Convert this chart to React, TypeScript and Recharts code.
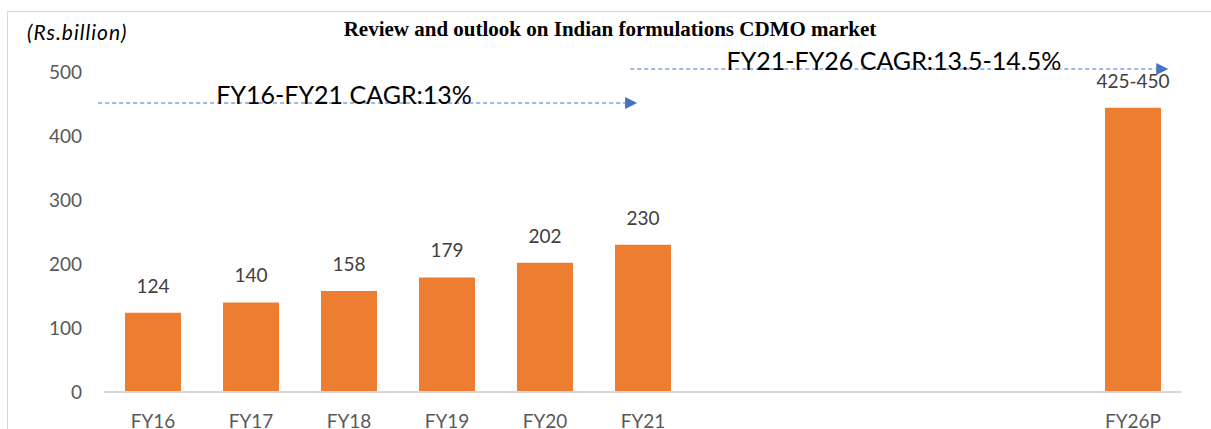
import React from "react";
import {
  BarChart,
  Bar,
  XAxis,
  YAxis,
  LabelList,
  ReferenceLine,
} from "recharts";

const categories = ["FY16", "FY17", "FY18", "FY19", "FY20", "FY21", "", "", "", "", "FY26P"];
const values = [124, 140, 158, 179, 202, 230, null, null, null, null, 444];
const valueLabels = ["124", "140", "158", "179", "202", "230", "", "", "", "", "425-450"];
const yTicks = [0, 100, 200, 300, 400, 500];

// CAGR arrows: start / tip in category index units, height in Rs.billion
const cagrLabels = ["FY16-FY21 CAGR:13%", "FY21-FY26 CAGR:13.5-14.5%"];
const cagrFrom = [-0.56, 4.87];
const cagrTo = [4.94, 10.36];
const cagrLevel = [451.6, 504.7];
const cagrTextAt = [1.95, 7.56];

const data = categories.map((name, i) => ({
  idx: i,
  name,
  value: values[i],
  label: valueLabels[i],
}));

const FONT = "Lato, 'Open Sans', sans-serif";
const BLUE = "#4472c4";

function Arrow(props: any) {
  const { x1, y1, x2, y2, text, textX } = props;
  if (x1 == null || x2 == null) return null;
  const tipLen = 12;
  return (
    <g>
      <line
        x1={x1}
        y1={y1}
        x2={x2 - tipLen}
        y2={y2}
        stroke={BLUE}
        strokeWidth={1.2}
        strokeDasharray="4 3"
      />
      <polygon
        points={`${x2 - tipLen},${y2 - 6} ${x2},${y2} ${x2 - tipLen},${y2 + 6}`}
        fill={BLUE}
      />
      <text
        x={textX}
        y={y1 + 1}
        textAnchor="middle"
        fontFamily={FONT}
        fontSize={25}
        fill="#000"
      >
        {text}
      </text>
    </g>
  );
}

export default function App() {
  const plotLeft = 104;
  const plotRight = 1182;
  const unit = (plotRight - plotLeft) / 11;
  const toPx = (v: number) => plotLeft + (v + 0.5) * unit;

  return (
    <div
      style={{
        position: "absolute",
        left: 0,
        top: 0,
        width: 1211,
        height: 429,
        overflow: "hidden",
        background: "#fff",
      }}
    >
      <div
        style={{
          position: "absolute",
          left: 7,
          top: 11,
          width: 1400,
          height: 600,
          border: "1px solid #d9d9d9",
        }}
      />
      <div
        style={{
          position: "absolute",
          left: 0,
          width: 1220,
          top: 17,
          textAlign: "center",
          fontFamily: "'Liberation Serif', 'Times New Roman', serif",
          fontWeight: "bold",
          fontSize: 21,
        }}
      >
        Review and outlook on Indian formulations CDMO market
      </div>
      <div
        style={{
          position: "absolute",
          left: 27,
          top: 19,
          fontFamily: FONT,
          fontStyle: "italic",
          fontSize: 21,
          letterSpacing: 1,
          color: "#000",
        }}
      >
        (Rs.billion)
      </div>
      <BarChart
        width={1211}
        height={429}
        data={data}
        margin={{ top: 72, right: 29, bottom: 7, left: 0 }}
        style={{ position: "absolute", left: 0, top: 0 }}
      >
        <XAxis
          dataKey="idx"
          type="number"
          domain={[-0.5, 10.5]}
          ticks={data.map((d) => d.idx)}
          interval={0}
          tickFormatter={(i: number) => categories[i]}
          axisLine={{ stroke: "#d9d9d9", strokeWidth: 2 }}
          tickLine={false}
          tickMargin={17}
          height={30}
          tick={{ fill: "#595959", fontSize: 19, fontFamily: FONT }}
        />
        <YAxis
          domain={[0, 500]}
          ticks={yTicks}
          width={104}
          axisLine={false}
          tickLine={false}
          tickMargin={16}
          tick={{ fill: "#595959", fontSize: 19, fontFamily: FONT }}
        />
        <Bar dataKey="value" fill="#ed7d31" barSize={56} isAnimationActive={false}>
          <LabelList
            dataKey="label"
            position="top"
            offset={20}
            fill="#404040"
            fontSize={19}
            fontFamily={FONT}
          />
        </Bar>
        {cagrLabels.map((text, i) => (
          <ReferenceLine
            key={text}
            ifOverflow="visible"
            segment={[
              { x: cagrFrom[i], y: cagrLevel[i] },
              { x: cagrTo[i], y: cagrLevel[i] },
            ]}
            shape={(p: any) => <Arrow {...p} text={text} textX={toPx(cagrTextAt[i])} />}
          />
        ))}
      </BarChart>
    </div>
  );
}
